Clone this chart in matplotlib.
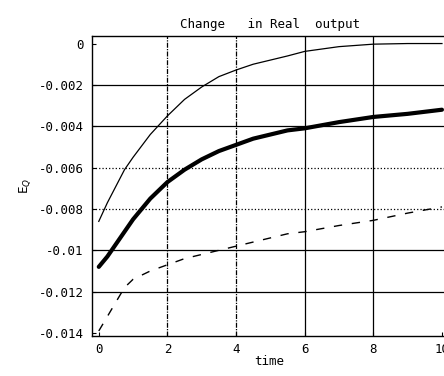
import matplotlib.pyplot as plt
import numpy as np

# values
t = [0, 0.25, 0.5, 0.75, 1, 1.5, 2, 2.5, 3, 3.5, 4, 4.5, 5, 5.5, 6, 7, 8, 9, 10]
upper = [-0.0086, -0.0077, -0.0069, -0.0061, -0.0055, -0.0044, -0.0035, -0.0027,
         -0.0021, -0.0016, -0.00128, -0.001, -0.0008, -0.0006, -0.00038,
         -0.00015, -0.00003, 0.0, 0.0]
middle = [-0.0108, -0.0103, -0.0097, -0.0091, -0.0085, -0.0075, -0.0067, -0.0061,
          -0.0056, -0.0052, -0.0049, -0.0046, -0.0044, -0.0042, -0.0041,
          -0.0038, -0.00355, -0.0034, -0.0032]
lower = [-0.0139, -0.0132, -0.0125, -0.0118, -0.0114, -0.0110, -0.0107, -0.0104,
         -0.0102, -0.0100, -0.0098, -0.0096, -0.0094, -0.0092, -0.0091,
         -0.0088, -0.00855, -0.0082, -0.0079]

xticks = [0, 2, 4, 6, 8, 10]
yticks = [0, -0.002, -0.004, -0.006, -0.008, -0.01, -0.012, -0.014]
ytick_labels = ["0", "-0.002", "-0.004", "-0.006", "-0.008", "-0.01", "-0.012", "-0.014"]

plt.rcParams["font.family"] = ["DejaVu Sans Mono"]

fig = plt.figure(figsize=(4.44, 3.76), dpi=100)
ax = fig.add_axes([0.207, 0.106, 0.80, 0.798])

# grid: some lines dotted like in the scan
for y in yticks[1:-1]:
    ls = ":" if y in (-0.006, -0.008) else "-"
    ax.axhline(y, color="black", linewidth=0.9, linestyle=ls, zorder=1)
for x in xticks[1:-1]:
    ls = (0, (4, 1, 1, 1)) if x in (2, 4) else "-"
    ax.axvline(x, color="black", linewidth=0.9, linestyle=ls, zorder=1)

ax.plot(t, upper, color="black", linewidth=0.9, zorder=3)
ax.plot(t, middle, color="black", linewidth=3.0, solid_capstyle="round", zorder=3)
ax.plot(t, lower, color="black", linewidth=1.0, dashes=(6, 7), zorder=3)

ax.set_xlim(-0.2, 10.15)
ax.set_ylim(-0.01415, 0.00036)
ax.set_xticks(xticks)
ax.set_yticks(yticks)
ax.set_yticklabels(ytick_labels)
ax.tick_params(direction="in", length=3, labelsize=9, pad=6)
ax.tick_params(axis="x", pad=5)

for s in ax.spines.values():
    s.set_linewidth(1.0)
ax.spines["right"].set_visible(False)

ax.set_title("Change   in Real  output", fontsize=9, pad=6)
ax.set_xlabel("time", fontsize=9, labelpad=-1)
ax.set_ylabel("E$_Q$", fontsize=9, labelpad=4)

fig.savefig("out.png", dpi=100)
